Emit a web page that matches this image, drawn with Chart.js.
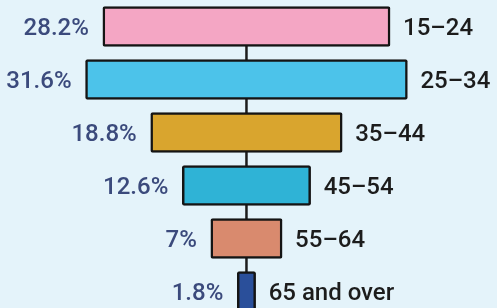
<!DOCTYPE html>
<html>
<head>
<meta charset="utf-8">
<script src="https://cdn.jsdelivr.net/npm/chart.js@4"></script>
<style>
    html, body { margin: 0; padding: 0; background: #e4f3fa; overflow: hidden; }
    #wrap { width: 497px; height: 308px; overflow: hidden; }
</style>
</head>
<body>
<div id="wrap"><canvas id="chart" width="497" height="318"></canvas></div>
<script>
// Faixas etárias e percentuais
const ageGroups = ['15–24', '25–34', '35–44', '45–54', '55–64', '65 and over'];
const shares = [28.2, 31.6, 18.8, 12.6, 7, 1.8];
const barColors = ['#f4a6c4', '#4cc3ea', '#d9a52e', '#2fb3d6', '#d98a6e', '#2a4f9a'];

// Rótulos: percentual à esquerda, faixa à direita
const labelPlugin = {
    id: 'funnelLabels',
    afterDatasetsDraw(chart) {
        const ctx = chart.ctx;
        const meta = chart.getDatasetMeta(1);
        ctx.save();
        ctx.font = '500 24px Roboto';
        ctx.textBaseline = 'middle';
        meta.data.forEach((el, i) => {
            const left = Math.min(el.x, el.base);
            const right = Math.max(el.x, el.base);
            ctx.fillStyle = '#3b4a7c';
            ctx.textAlign = 'right';
            ctx.fillText(shares[i] + '%', left - 14, el.y + 2);
            ctx.fillStyle = '#1c1c1c';
            ctx.textAlign = 'left';
            ctx.fillText(ageGroups[i], right + 13, el.y + 2);
        });
        ctx.restore();
    }
};

const ctx = document.getElementById('chart').getContext('2d');
new Chart(ctx, {
    type: 'bar',
    data: {
        labels: ageGroups,
        datasets: [
            {
                type: 'line',
                data: ageGroups.map(g => ({ x: 0, y: g })),
                borderColor: '#1c1c1c',
                borderWidth: 2.5,
                pointRadius: 0,
                order: 2
            },
            {
                data: shares.map(v => [-v / 2, v / 2]),
                backgroundColor: barColors,
                borderColor: '#141414',
                borderWidth: 2.5,
                borderSkipped: false,
                borderRadius: 2,
                barThickness: 40,
                order: 1
            }
        ]
    },
    options: {
        indexAxis: 'y',
        responsive: false,
        devicePixelRatio: 1,
        animation: false,
        layout: { padding: 0 },
        plugins: {
            legend: { display: false },
            tooltip: { enabled: false }
        },
        scales: {
            x: { type: 'linear', min: -24.2, max: 24.6, display: false },
            y: { display: false, offset: true }
        }
    },
    plugins: [labelPlugin]
});
</script>
</body>
</html>
